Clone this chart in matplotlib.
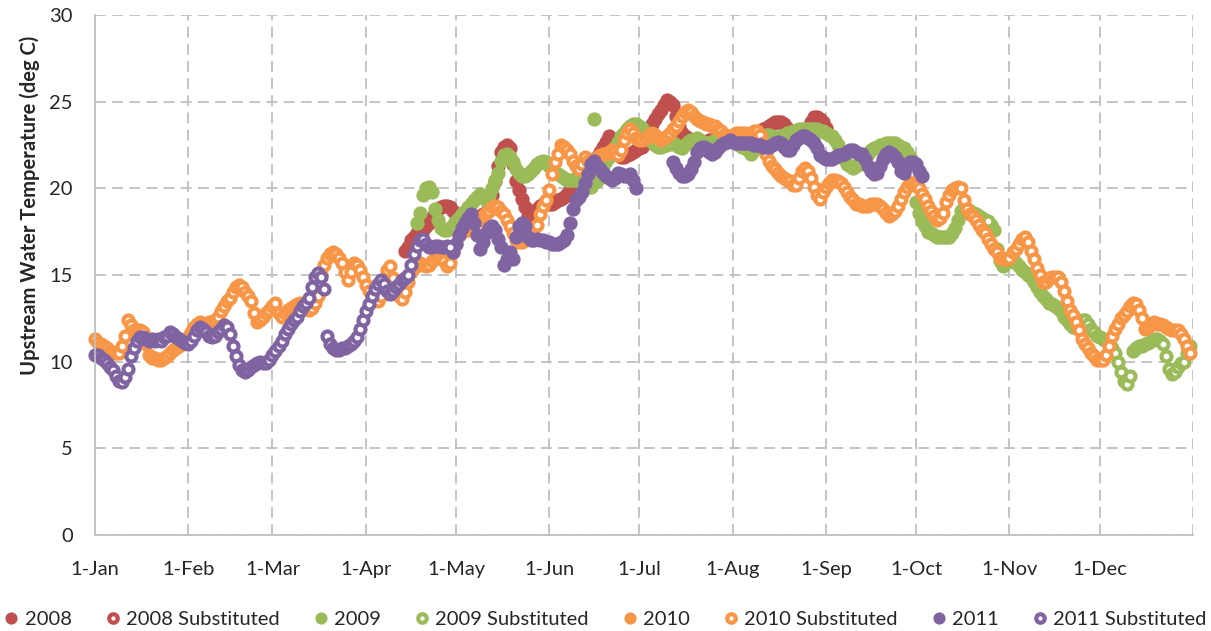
import numpy as np
import matplotlib
matplotlib.use("Agg")
import matplotlib.pyplot as plt

plt.rcParams['font.family'] = ['Lato', 'DejaVu Sans']

# x axis: day of year (0 = 1-Jan)
month_days = [0, 31, 59, 90, 120, 151, 181, 212, 243, 273, 304, 334, 365]
month_labels = ['1-Jan', '1-Feb', '1-Mar', '1-Apr', '1-May', '1-Jun', '1-Jul',
                '1-Aug', '1-Sep', '1-Oct', '1-Nov', '1-Dec', '']

# 2008 (measured) starts on day 103
start_2008 = 103
temp_2008 = [16.4, 16.6, 17.0, 17.2, 17.4, 17.5, 17.6, 17.8, 18.0, 18.3,
             18.6, 18.8, 18.9, 19.0, 19.0, 18.9, 18.7, 18.2, 17.9, 17.8,
             17.9, 18.0, 18.1, 18.2, 18.3, 18.4, 18.5, 18.6, 19.0, 19.6,
             20.4, 21.3, 22.1, 22.4, 22.5, 22.3, 21.4, 20.4, 19.9, 19.4,
             18.9, 18.4, 18.4, 18.6, 18.8, 19.0, 19.1, 19.1, 19.1, 19.1,
             19.2, 19.3, 19.4, 19.5, 19.7, 19.9, 20.1, 20.4, 20.8, 21.2,
             21.4, 21.5, 21.6, 21.7, 21.8, 22.1, 22.4, 22.7, 23.0, 22.7,
             22.3, 22.0, 21.8, 21.8, 21.9, 22.0, 22.1, 22.2, 22.3, 22.4,
             22.6, 23.0, 23.7, 24.0, 24.3, 24.5, 24.8, 25.1, 25.0, 24.8,
             24.2, 23.6, 23.2, 23.0, 22.9, 22.8, 22.7, 22.5, 22.5, 22.6,
             22.7, 22.8, 22.8, 22.8, 22.9, 22.9, 23.0, 23.0, 22.9, 22.9,
             22.9, 22.9, 23.0, 23.0, 23.0, 23.1, 23.1, 23.2, 23.3, 23.4,
             23.5, 23.6, 23.7, 23.8, 23.8, 23.8, 23.7, 23.5, 23.3, 23.2,
             23.1, 23.1, 23.2, 23.3, 23.5, 23.8, 24.1, 24.1, 24.0, 23.8,
             23.5]
start_2008_sub = 0
temp_2008_sub = []

# 2009
start_2009_a = 107
temp_2009_a = [18.0, 18.6, 19.6, 20.0, 20.1, 19.8, 18.8, 18.2, 17.7, 17.6,
               17.6, 17.7, 17.9, 18.1, 18.3, 18.5, 18.7, 18.9, 19.1, 19.3,
               19.5, 19.7, 19.5, 19.3, 19.6, 20.0, 20.5, 20.9, 21.6, 21.9,
               22.0, 21.8, 21.5, 21.1, 20.9, 20.7, 20.7, 20.8, 21.0, 21.2,
               21.4, 21.5, 21.6, 21.5, 21.3, 21.1, 20.9, 20.8, 20.7, 20.6,
               20.5, 20.5, 20.5, 20.5, 20.4, 20.3, 20.2, 20.2, 20.1, 24.0,
               20.4, 20.8, 21.3, 21.6, 21.8, 22.1, 22.4, 22.7, 23.0, 23.2,
               23.4, 23.6, 23.7, 23.7, 23.6, 23.5, 23.2, 22.9, 22.7, 22.5,
               22.4, 22.4, 22.5, 22.5, 22.6, 22.6, 22.5, 22.4, 22.3, 22.5,
               22.7, 22.8, 22.8, 22.9, 22.8, 22.7, 22.6, 22.6, 22.7, 22.8,
               22.9, 22.9, 23.0, 22.9, 22.8, 22.7, 22.6, 22.5, 22.4, 22.3,
               22.2, 22.0, 22.2, 22.5, 22.8, 23.0, 23.1, 23.1, 23.0, 22.9,
               22.9, 23.0, 23.1, 23.2, 23.2, 23.3, 23.3, 23.4, 23.4, 23.4,
               23.4, 23.4, 23.4, 23.4, 23.3, 23.3, 23.2, 23.1, 23.0, 22.8,
               22.5, 22.1, 21.7, 21.4, 21.3, 21.2, 21.3, 21.4, 21.6, 21.8,
               22.0, 22.2, 22.3, 22.4, 22.5, 22.5, 22.6, 22.6, 22.6, 22.6,
               22.5, 22.4, 22.3, 22.1, 21.8, 20.3, 19.2, 18.6, 18.1, 17.8,
               17.5, 17.4, 17.3, 17.2, 17.2, 17.2, 17.2, 17.2, 17.4, 17.7,
               18.2, 18.7, 18.9, 18.8, 18.7, 18.6, 18.5, 18.4, 18.3]
start_2009_b = 298
temp_2009_b = [17.9, 17.6, 16.5, 15.8, 15.5, 15.7, 15.9, 15.9, 15.7,
               15.5, 15.3, 15.2, 15.0, 14.9, 14.6, 14.3, 14.0, 13.8, 13.6,
               13.4, 13.3, 13.2, 13.1, 12.9, 12.6, 12.4, 12.2, 12.0]
start_2009_c = 345
temp_2009_c = [10.6, 10.8, 10.9, 10.9, 11.0, 11.1, 11.2, 11.3, 11.3, 11.2]
start_2009_sub_a = 296
temp_2009_sub_a = [18.2, 18.1]
start_2009_sub_b = 326
temp_2009_sub_b = [12.1, 12.3, 12.4, 12.4, 12.2, 11.9, 11.7, 11.5, 11.4, 11.3,
                   11.2, 11.1, 10.8, 10.5, 10.0, 9.4, 8.9, 8.7, 9.2]
start_2009_sub_c = 355
temp_2009_sub_c = [11.0, 10.3, 9.6, 9.3, 9.4, 9.7, 9.9, 10.0, 10.5, 10.9]

# 2010
start_2010 = 119
temp_2010 = [16.3, 16.8, 17.3, 17.5, 17.6, 17.6, 17.8, 18.0]
start_2010_sub_a = 0
temp_2010_sub_a = [11.3, 11.1, 11.0, 10.9, 10.8, 10.6, 10.5, 10.5, 10.5, 10.9,
                   11.5, 12.4, 12.1, 11.8, 11.8, 11.8, 11.7, 11.0, 10.4, 10.2,
                   10.2, 10.1, 10.1, 10.2, 10.3, 10.5, 10.7, 10.8, 10.9, 11.0,
                   11.2, 11.4, 11.7, 12.0, 12.2, 12.3, 12.2, 12.2, 12.3, 12.3,
                   12.4, 12.6, 12.9, 13.2, 13.5, 13.7, 14.0, 14.3, 14.4, 14.3,
                   14.0, 13.8, 13.5, 12.8, 12.3, 12.4, 12.6, 12.8, 13.0, 13.2,
                   13.4, 12.8, 12.6, 12.8, 13.0, 13.1, 13.2, 13.3, 13.4, 13.3,
                   13.1, 13.0, 13.1, 13.4, 13.8, 15.0, 15.6, 16.0, 16.2, 16.3,
                   16.2, 16.0, 15.7, 15.2, 14.7, 15.2, 15.7, 15.6, 15.3, 14.9,
                   14.4, 14.1, 13.8, 13.6, 13.5, 13.8, 14.5, 15.3, 15.5, 14.8,
                   14.1, 13.8, 13.6, 14.0, 14.6, 15.2, 15.4, 15.6, 15.7, 15.6,
                   15.5, 15.6, 15.8, 16.0, 16.1, 16.0, 15.8, 15.5, 15.7]
start_2010_sub_b = 127
temp_2010_sub_b = [18.1, 18.2, 18.4, 18.6, 18.7, 18.9, 19.0, 18.9, 18.7, 18.5,
                   18.2, 17.8, 17.4, 17.0, 16.9, 16.9, 17.1, 17.3, 17.5, 17.7,
                   17.9, 18.5, 19.0, 19.3, 19.9, 20.8, 21.5, 22.0, 22.5, 22.4,
                   22.2, 22.0, 21.6, 21.3, 21.1, 21.4, 21.8, 21.6, 21.5, 21.6,
                   21.8, 21.9, 22.0, 22.0, 22.1, 22.2, 22.1, 21.9, 22.2, 22.8,
                   23.2, 23.4, 23.2, 22.9, 22.8, 22.8, 22.9, 23.1, 23.2, 23.1,
                   22.9, 22.8, 22.9, 23.0, 23.2, 23.4, 23.6, 23.9, 24.2, 24.4,
                   24.5, 24.4, 24.2, 24.0, 23.9, 23.8, 23.7, 23.7, 23.6, 23.6,
                   23.4, 23.3, 23.1, 23.0, 23.0, 23.1, 23.2, 23.2, 23.2, 23.2,
                   23.1, 23.2, 23.3, 23.3, 23.1, 22.6, 22.0, 21.6, 21.3, 21.1,
                   20.9, 20.7, 20.6, 20.5, 20.4, 20.2, 20.2, 20.6, 21.0, 21.2,
                   21.0, 20.6, 20.1, 19.6, 19.4, 19.8, 20.1, 20.3, 20.5, 20.5,
                   20.4, 20.3, 20.1, 19.8, 19.5, 19.3, 19.1, 19.1, 19.0, 19.0,
                   19.0, 19.1, 19.1, 19.1, 19.0, 18.8, 18.6, 18.4, 18.5, 18.7,
                   19.0, 19.4, 19.8, 20.1, 20.3, 20.3, 20.2, 20.0, 19.7, 19.4,
                   19.0, 18.7, 18.4, 18.2, 18.3, 18.6, 19.2, 19.6, 19.9, 20.0,
                   20.1, 20.0, 19.3, 18.8, 18.5, 18.4, 18.2, 17.9, 17.6, 17.4,
                   17.1, 16.8, 16.5, 16.3, 16.0, 15.9, 15.9, 16.0, 16.3, 16.5,
                   16.8, 17.1, 17.2, 16.9, 16.4, 15.9, 15.4, 15.0, 14.6, 14.6,
                   14.8, 14.9, 14.9, 14.9, 14.6, 14.1, 13.5, 13.0, 12.7, 12.3,
                   11.8, 11.3, 11.0, 10.8, 10.5, 10.3, 10.1, 10.1, 10.1, 10.4,
                   10.9, 11.5, 11.9, 12.2, 12.5, 12.7, 12.9, 13.2, 13.4, 13.3,
                   13.0, 12.5, 11.9, 12.0, 12.2, 12.3, 12.2, 12.2, 12.1, 12.0,
                   11.9, 11.8, 11.8, 11.8, 11.6, 11.3, 10.9, 10.5]

# 2011
start_2011_a = 119
temp_2011_a = [16.3, 16.8, 17.3, 17.7, 18.0, 18.3, 18.5, 18.0, 17.3, 16.5,
               16.9, 17.4, 17.7, 17.8, 17.6, 17.1, 16.6, 15.6, 15.9, 16.3,
               15.9, 17.2, 17.8, 18.0, 17.8, 17.2, 17.0, 17.0, 17.1, 17.0,
               17.0, 16.9, 16.9, 16.8, 16.8, 16.8, 16.9, 17.0, 17.3, 18.0,
               18.8, 19.3, 19.5, 19.8, 20.3, 20.8, 21.4, 21.6, 21.3, 21.1,
               20.9, 20.7, 20.6, 20.5, 20.6, 20.9, 20.8, 20.7, 20.7, 20.8,
               20.5, 20.0]
start_2011_b = 192
temp_2011_b = [21.5, 21.2, 20.9, 20.7, 20.7, 20.8, 21.1, 21.5, 22.1, 22.3,
               22.4, 22.3, 22.1, 22.0, 22.1, 22.3, 22.5, 22.6, 22.7, 22.8,
               22.7, 22.6, 22.6, 22.6, 22.6, 22.6, 22.6, 22.5, 22.5, 22.5,
               22.4, 22.4, 22.4, 22.5, 22.6, 22.7, 22.6, 22.4, 22.2, 22.2,
               22.5, 22.8, 22.9, 23.0, 23.0, 22.9, 22.8, 22.6, 22.3, 21.9,
               21.8, 21.7, 21.7, 21.7, 21.8, 21.9, 21.9, 22.0, 22.1, 22.2,
               22.2, 22.1, 22.0, 22.0, 21.7, 21.3, 21.0, 20.8, 20.9, 21.3,
               21.7, 22.0, 22.1, 22.0, 21.8, 21.5, 21.0, 20.9, 21.3, 21.5,
               21.5, 21.4, 21.0, 20.7]
start_2011_sub = 0
temp_2011_sub = [10.4, 10.4, 10.2, 10.1, 9.9, 9.7, 9.5, 9.2, 8.9, 8.8,
                 9.1, 9.6, 10.3, 10.8, 11.2, 11.4, 11.4, 11.3, 11.2, 11.3,
                 11.2, 11.3, 11.2, 11.4, 11.5, 11.7, 11.6, 11.4, 11.3, 11.2,
                 11.1, 11.0, 11.2, 11.5, 11.8, 12.0, 11.9, 11.7, 11.5, 11.4,
                 11.5, 11.7, 11.9, 12.1, 12.0, 11.6, 10.9, 10.3, 9.8, 9.5,
                 9.4, 9.5, 9.7, 9.8, 9.9, 10.0, 9.9, 9.9, 10.1, 10.4,
                 10.6, 10.9, 11.2, 11.6, 11.9, 12.2, 12.4, 12.6, 12.9, 13.2,
                 13.4, 13.7, 14.3, 14.9, 15.1, 14.9, 14.2, 11.5, 11.0, 10.8,
                 10.7, 10.7, 10.8, 10.8, 10.9, 11.0, 11.2, 11.4, 11.9, 12.4,
                 12.9, 13.3, 13.8, 14.2, 14.5, 14.7, 14.5, 14.1, 13.9, 14.1,
                 14.3, 14.5, 14.7, 14.8, 15.0, 15.6, 16.2, 16.7, 17.0, 17.1,
                 16.8, 16.6, 16.6, 16.7, 16.7, 16.6, 16.6, 16.7, 16.6]

c2008 = '#C0504D'
c2009 = '#9BBB59'
c2010 = '#F79646'
c2011 = '#8064A2'

fig = plt.figure(figsize=(12.11, 6.31), dpi=100)
ax = fig.add_axes([95 / 1211, 1 - 535 / 631, 1098 / 1211, 520 / 631])


def draw(start, temps, color, hollow, label=None):
    days = np.arange(start, start + len(temps))
    if hollow:
        return ax.plot(days, temps, 'o', ls='none', ms=7.2, mew=3.0, mec=color,
                       mfc='white', clip_on=False, label=label)[0]
    return ax.plot(days, temps, 'o', ls='none', ms=10.3, mew=0, color=color,
                   clip_on=False, label=label)[0]


h = []
h.append(draw(start_2008, temp_2008, c2008, False, '2008'))
h.append(draw(start_2008_sub, temp_2008_sub, c2008, True, '2008 Substituted'))
h.append(draw(start_2009_a, temp_2009_a, c2009, False, '2009'))
draw(start_2009_b, temp_2009_b, c2009, False)
draw(start_2009_c, temp_2009_c, c2009, False)
h.append(draw(start_2009_sub_a, temp_2009_sub_a, c2009, True, '2009 Substituted'))
draw(start_2009_sub_b, temp_2009_sub_b, c2009, True)
draw(start_2009_sub_c, temp_2009_sub_c, c2009, True)
h.append(draw(start_2010, temp_2010, c2010, False, '2010'))
h.append(draw(start_2010_sub_a, temp_2010_sub_a, c2010, True, '2010 Substituted'))
draw(start_2010_sub_b, temp_2010_sub_b, c2010, True)
h.append(draw(start_2011_a, temp_2011_a, c2011, False, '2011'))
draw(start_2011_b, temp_2011_b, c2011, False)
h.append(draw(start_2011_sub, temp_2011_sub, c2011, True, '2011 Substituted'))

ax.set_xlim(0, 365)
ax.set_ylim(0, 30)
ax.set_xticks(month_days)
ax.set_xticklabels(month_labels)
ax.set_yticks(np.arange(0, 31, 5))

grid_style = dict(color='#BFBFBF', lw=1.3, ls=(0, (6, 3.5)))
ax.grid(True, **grid_style)
ax.set_axisbelow(True)
for s in ['top', 'right']:
    ax.spines[s].set_visible(False)
for s in ['left', 'bottom']:
    ax.spines[s].set_color('#BFBFBF')
    ax.spines[s].set_linewidth(1.3)
ax.tick_params(axis='both', length=0, labelsize=14.5, labelcolor='#262626')
ax.tick_params(axis='x', pad=19)
ax.tick_params(axis='y', pad=16)

fig.text(30 / 1211, 1 - 205 / 631, 'Upstream Water Temperature (deg C)',
         rotation=90, ha='center', va='center', fontsize=14.5,
         fontweight='bold', color='#262626')

leg = fig.legend(handles=h, loc='center', bbox_to_anchor=(0.5, 1 - 619 / 631),
                 ncol=8, frameon=False, fontsize=14.5, handlelength=0.7,
                 handletextpad=0.3, columnspacing=1.7, markerscale=0.85)
for t in leg.get_texts():
    t.set_color('#262626')

fig.savefig('out.png', dpi=100)
